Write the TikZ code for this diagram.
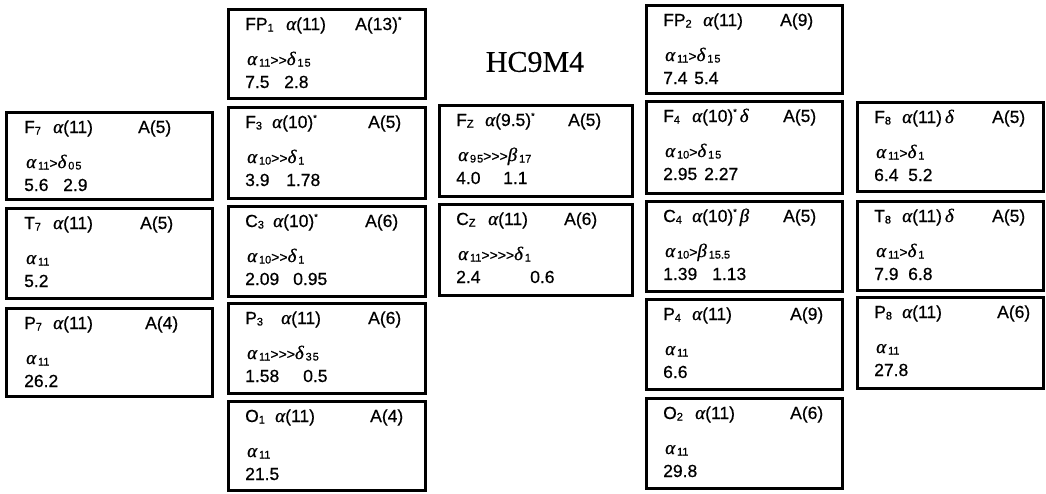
\documentclass[tikz,border=0pt]{standalone}
\usepackage{fontspec}
\setmainfont{Liberation Sans}[FakeBold=0.6]
\newfontfamily\grkfont{Liberation Serif}[FakeBold=0.8]
\newfontfamily\ttlfont{Liberation Serif}[FakeBold=0.3]
\newcommand{\ga}{{\grkfont\itshape\fontsize{19}{19}\selectfont α}}
\newcommand{\gd}{{\grkfont\itshape\fontsize{19}{19}\selectfont δ}}
\newcommand{\gb}{{\grkfont\itshape\fontsize{19}{19}\selectfont β}}
\newcommand{\sbs}[1]{\raisebox{-1.5pt}{\fontsize{11}{11}\selectfont #1}}
\newcommand{\gts}[1]{{\fontsize{14}{14}\selectfont #1}}
\newcommand{\astr}{\raisebox{7pt}{\fontsize{9}{9}\selectfont *}}
\tikzset{
  cell/.style={draw, line width=2.6pt, anchor=north west, inner sep=0pt},
  txt/.style={anchor=base west, inner sep=0pt, font=\fontsize{17.5}{19}\selectfont},
}
\newcommand{\cell}[5]{\node[cell, minimum width={#4-#2}, minimum height={#5-#3}] (#1) at (#2,#3) {};}
\begin{document}
\begin{tikzpicture}[x=1pt,y=-1pt]
\useasboundingbox (0,0) rectangle (1046,493);
\fill[white] (0,0) rectangle (1046,493);

\node[font=\ttlfont\fontsize{30}{32}\selectfont, inner sep=0pt] (title) at (535,62) {HC9M4};

% column 1
\cell{F7}{5}{111}{211}{198}
\node[txt] (F7n) at (24,133) {F\sbs{7}};
\node[txt] (F7a) at (53,133) {\ga(11)};
\node[txt] (F7A) at (138,133) {A(5)};
\node[txt] (F7r) at (26,168) {\ga\sbs{\,11}\gts{>}\gd\sbs{\,0\kern1pt5}};
\node[txt] (F7v) at (24,191) {5.6};
\node[txt] (F7w) at (63,191) {2.9};

\cell{T7}{5}{207}{211}{297}
\node[txt] (T7n) at (24,229) {T\sbs{7}};
\node[txt] (T7a) at (53,229) {\ga(11)};
\node[txt] (T7A) at (140,229) {A(5)};
\node[txt] (T7r) at (26,264) {\ga\sbs{\,11}};
\node[txt] (T7v) at (24,287) {5.2};

\cell{P7}{5}{307}{211}{395}
\node[txt] (P7n) at (24,329) {P\sbs{7}};
\node[txt] (P7a) at (53,329) {\ga(11)};
\node[txt] (P7A) at (145,329) {A(4)};
\node[txt] (P7r) at (26,364) {\ga\sbs{\,11}};
\node[txt] (P7v) at (24,387) {26.2};

% column 2
\cell{FP1}{227}{8}{424}{97}
\node[txt] (FP1n) at (245,30) {FP\sbs{1}};
\node[txt] (FP1a) at (286,30) {\ga(11)};
\node[txt] (FP1A) at (355,30) {A(13)\astr};
\node[txt] (FP1r) at (247,65) {\ga\sbs{\,11}\gts{>{}>}\gd\sbs{\,1\kern1pt5}};
\node[txt] (FP1v) at (245,88) {7.5};
\node[txt] (FP1w) at (284,88) {2.8};

\cell{F3}{227}{106}{424}{197}
\node[txt] (F3n) at (245,128) {F\sbs{3}};
\node[txt] (F3a) at (272,128) {\ga(10)\astr};
\node[txt] (F3A) at (368,128) {A(5)};
\node[txt] (F3r) at (247,163) {\ga\sbs{\,10}\gts{>{}>}\gd\sbs{\,1}};
\node[txt] (F3v) at (245,186) {3.9};
\node[txt] (F3w) at (286,186) {1.78};

\cell{C3}{227}{205}{424}{295}
\node[txt] (C3n) at (245,227) {C\sbs{3}};
\node[txt] (C3a) at (273,227) {\ga(10)\astr};
\node[txt] (C3A) at (365,227) {A(6)};
\node[txt] (C3r) at (247,262) {\ga\sbs{\,10}\gts{>{}>}\gd\sbs{\,1}};
\node[txt] (C3v) at (245,285) {2.09};
\node[txt] (C3w) at (293,285) {0.95};

\cell{P3}{227}{302}{424}{392}
\node[txt] (P3n) at (245,324) {P\sbs{3}};
\node[txt] (P3a) at (281,324) {\ga(11)};
\node[txt] (P3A) at (368,324) {A(6)};
\node[txt] (P3r) at (247,359) {\ga\sbs{\,11}\gts{>{}>{}>}\gd\sbs{\,3\kern1pt5}};
\node[txt] (P3v) at (245,382) {1.58};
\node[txt] (P3w) at (303,382) {0.5};

\cell{O1}{227}{400}{424}{489}
\node[txt] (O1n) at (245,422) {O\sbs{1}};
\node[txt] (O1a) at (275,422) {\ga(11)};
\node[txt] (O1A) at (370,422) {A(4)};
\node[txt] (O1r) at (247,457) {\ga\sbs{\,11}};
\node[txt] (O1v) at (245,480) {21.5};

% column 3
\cell{Fz}{438}{104}{631}{195}
\node[txt] (Fzn) at (456,126) {F\sbs{Z}};
\node[txt] (Fza) at (485,126) {\ga(9.5)\astr};
\node[txt] (FzA) at (568,126) {A(5)};
\node[txt] (Fzr) at (458,161) {\ga\sbs{\,9\kern1pt5}\gts{>{}>{}>}\gb\sbs{\,17}};
\node[txt] (Fzv) at (456,184) {4.0};
\node[txt] (Fzw) at (503,184) {1.1};

\cell{Cz}{438}{203}{631}{294}
\node[txt] (Czn) at (456,225) {C\sbs{Z}};
\node[txt] (Cza) at (488,225) {\ga(11)};
\node[txt] (CzA) at (564,225) {A(6)};
\node[txt] (Czr) at (458,260) {\ga\sbs{\,11}\gts{>{}>{}>{}>}\gd\sbs{\,1}};
\node[txt] (Czv) at (456,283) {2.4};
\node[txt] (Czw) at (530,283) {0.6};

% column 4
\cell{FP2}{645}{4}{841}{92}
\node[txt] (FP2n) at (663,26) {FP\sbs{2}};
\node[txt] (FP2a) at (703,26) {\ga(11)};
\node[txt] (FP2A) at (780,26) {A(9)};
\node[txt] (FP2r) at (665,61) {\ga\sbs{\,11}\gts{>}\gd\sbs{\,1\kern1pt5}};
\node[txt] (FP2v) at (663,84) {7.4};
\node[txt] (FP2w) at (694,84) {5.4};

\cell{F4}{645}{100}{841}{192}
\node[txt] (F4n) at (663,122) {F\sbs{4}};
\node[txt] (F4a) at (692,122) {\ga(10)\astr\,\gd};
\node[txt] (F4A) at (783,122) {A(5)};
\node[txt] (F4r) at (665,157) {\ga\sbs{\,10}\gts{>}\gd\sbs{\,1\kern1pt5}};
\node[txt] (F4v) at (663,180) {2.95};
\node[txt] (F4w) at (704,180) {2.27};

\cell{C4}{645}{200}{841}{290}
\node[txt] (C4n) at (663,222) {C\sbs{4}};
\node[txt] (C4a) at (692,222) {\ga(10)\astr\,\gb};
\node[txt] (C4A) at (783,222) {A(5)};
\node[txt] (C4r) at (665,257) {\ga\sbs{\,10}\gts{>}\gb\sbs{\,15.5}};
\node[txt] (C4v) at (663,280) {1.39};
\node[txt] (C4w) at (712,280) {1.13};

\cell{P4}{645}{298}{841}{388}
\node[txt] (P4n) at (663,320) {P\sbs{4}};
\node[txt] (P4a) at (692,320) {\ga(11)};
\node[txt] (P4A) at (790,320) {A(9)};
\node[txt] (P4r) at (665,355) {\ga\sbs{\,11}};
\node[txt] (P4v) at (663,378) {6.6};

\cell{O2}{645}{397}{841}{487}
\node[txt] (O2n) at (663,419) {O\sbs{2}};
\node[txt] (O2a) at (695,419) {\ga(11)};
\node[txt] (O2A) at (790,419) {A(6)};
\node[txt] (O2r) at (665,454) {\ga\sbs{\,11}};
\node[txt] (O2v) at (663,477) {29.8};

% column 5
\cell{F8}{856}{101}{1042}{190}
\node[txt] (F8n) at (874,123) {F\sbs{8}};
\node[txt] (F8a) at (902,123) {\ga(11)\,\gd};
\node[txt] (F8A) at (992,123) {A(5)};
\node[txt] (F8r) at (876,158) {\ga\sbs{\,11}\gts{>}\gd\sbs{\,1}};
\node[txt] (F8v) at (874,181) {6.4};
\node[txt] (F8w) at (908,181) {5.2};

\cell{T8}{856}{200}{1042}{289}
\node[txt] (T8n) at (874,222) {T\sbs{8}};
\node[txt] (T8a) at (902,222) {\ga(11)\,\gd};
\node[txt] (T8A) at (992,222) {A(5)};
\node[txt] (T8r) at (876,257) {\ga\sbs{\,11}\gts{>}\gd\sbs{\,1}};
\node[txt] (T8v) at (874,280) {7.9};
\node[txt] (T8w) at (908,280) {6.8};

\cell{P8}{856}{296}{1042}{387}
\node[txt] (P8n) at (874,318) {P\sbs{8}};
\node[txt] (P8a) at (902,318) {\ga(11)};
\node[txt] (P8A) at (997,318) {A(6)};
\node[txt] (P8r) at (876,353) {\ga\sbs{\,11}};
\node[txt] (P8v) at (874,376) {27.8};
\end{tikzpicture}
\end{document}
